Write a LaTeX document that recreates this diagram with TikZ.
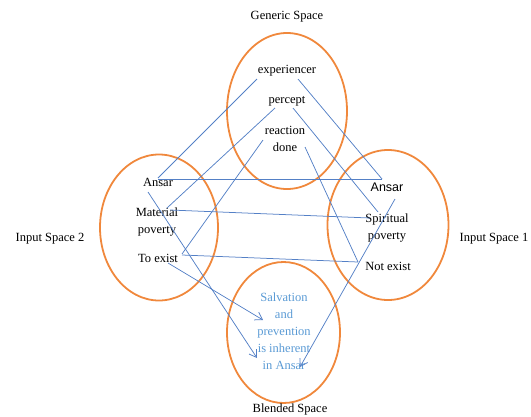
\documentclass[tikz,border=0pt]{standalone}
\usepackage{fontspec}
\setmainfont{Liberation Serif}
\newfontfamily\arialfont{Liberation Sans}
\usetikzlibrary{shapes.geometric,arrows.meta,calc}

\definecolor{spaceorange}{RGB}{240,136,60}
\definecolor{linkblue}{RGB}{84,128,198}
\definecolor{blendblue}{RGB}{91,155,213}

\tikzset{
  space/.style={ellipse, draw=spaceorange, line width=1.8pt, inner sep=0pt},
  term/.style={inner sep=1pt, font=\fontsize{12.5}{17}\selectfont, align=center},
  caption/.style={inner sep=1pt, font=\fontsize{12.5}{17}\selectfont},
  link/.style={draw=linkblue, line width=0.75pt},
  proj/.style={link, -{Straight Barb[length=7pt,width=9pt]}},
}

\begin{document}
\begin{tikzpicture}[x=1pt, y=-1pt]
  \useasboundingbox (0,0) rectangle (531,416);

  % the four mental spaces
  \node[space, minimum width=120, minimum height=156] (generic) at (287,111) {};
  \node[space, minimum width=118, minimum height=146] (input2)  at (159,227.5) {};
  \node[space, minimum width=121, minimum height=150] (input1)  at (388,225) {};
  \node[space, minimum width=113, minimum height=141] (blended) at (283.5,332.5) {};

  % space captions
  \node[caption] (capG) at (287,17)  {Generic Space};
  \node[caption] (cap2) at (50,239)  {Input Space 2};
  \node[caption] (cap1) at (494,239) {Input Space 1};
  \node[caption] (capB) at (290,409) {Blended Space};

  % generic space elements
  \node[term] (exp)  at (287,71)  {experiencer};
  \node[term] (perc) at (287,101) {percept};
  \node[term] (reac) at (285,139) {reaction\\done};

  % input space 2
  \node[term] (ansL) at (158,182) {Ansar};
  \node[term] (matp) at (157,222) {Material\\poverty};
  \node[term] (toex) at (158,258) {To exist};

  % input space 1
  \node[term, font=\arialfont\fontsize{12.5}{17}\selectfont] (ansR) at (387,187) {Ansar};
  \node[term] (spip) at (387,228) {Spiritual\\poverty};
  \node[term] (notx) at (388,266) {Not exist};

  % blend
  \node[term, text=blendblue] (blend) at (284,331)
    {Salvation\\and\\prevention\\is inherent\\in Ansar};

  % cross-space mappings
  \draw[link] ($(exp)+(-30,8)$)  -- ($(ansL)+(0,-4)$);
  \draw[link] ($(exp)+(11,8)$)   -- ($(ansR)+(-5,-8)$);
  \draw[link] ($(ansR)+(-5,-8)$) -- ($(ansL)+(0,-3)$);
  \draw[link] ($(perc)+(-12,7)$) -- ($(matp)+(10,-14)$);
  \draw[link] ($(perc)+(6,7)$)   -- ($(spip)+(-9,-16)$);
  \draw[link] ($(reac)+(-22,1)$) -- ($(toex)+(24,-4)$);
  \draw[link] ($(reac)+(20,8)$)  -- ($(notx)+(-30,-4)$);
  \draw[link] ($(matp)+(13,-12)$) -- ($(spip)+(-17,-10)$);
  \draw[link] ($(toex)+(24,-3)$) -- ($(notx)+(-30,-4)$);

  % projections into the blend
  \draw[proj] ($(toex)+(10,5)$)   -- ($(blend)+(-21,-11)$);
  \draw[proj] ($(ansL)+(-10,10)$) -- ($(blend)+(-27,27)$);
  \draw[proj] ($(spip)+(8,-29)$)  -- ($(blend)+(16,36)$);
\end{tikzpicture}
\end{document}
